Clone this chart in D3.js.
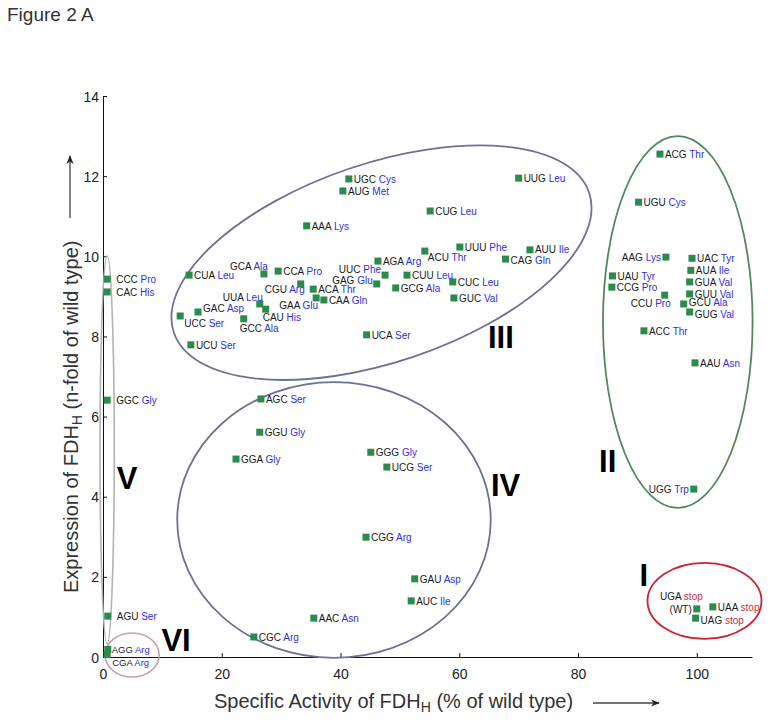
<!DOCTYPE html>
<html><head><meta charset="utf-8">
<script src="https://cdn.jsdelivr.net/npm/d3@7"></script>
<style>
body{margin:0;background:#fff}
svg{display:block}
text{font-family:"Liberation Sans",Arial,Helvetica,sans-serif}
</style>
</head><body>
<svg id="chart" width="771" height="722"></svg>
<script>
// ---------------- data ----------------
const codons = ["UGC","AUG","AAA","CUG","UUG","AUU","CAG","UUU","ACU","AGA","UUC","GAG","CUU","GCG","CUC","GUC","UCA","CUA","GCA","CCA","CGU","ACA","GAA","CAA","UUA","CAU","GAC","UCC","GCC","UCU",
  "ACG","UGU","AAG","UAC","AUA","UAU","GUA","CCG","GUU","CCU","GCU","GUG","ACC","AAU","UGG",
  "AGC","GGU","GGA","GGG","UCG","CGG","GAU","AUC","AAC","CGC",
  "UGA","UAA","UAG",
  "CCC","CAC","GGC","AGU",
  "AGG","CGA"];
const aminoAcids = ["Cys","Met","Lys","Leu","Leu","Ile","Gln","Phe","Thr","Arg","Phe","Glu","Leu","Ala","Leu","Val","Ser","Leu","Ala","Pro","Arg","Thr","Glu","Gln","Leu","His","Asp","Ser","Ala","Ser",
  "Thr","Cys","Lys","Tyr","Ile","Tyr","Val","Pro","Val","Pro","Ala","Val","Thr","Asn","Trp",
  "Ser","Gly","Gly","Gly","Ser","Arg","Asp","Ile","Asn","Arg",
  "stop","stop","stop",
  "Pro","His","Gly","Ser",
  "Arg","Arg"];
const activity = [41.4,40.4,34.3,55.1,70.0,71.9,67.8,60.1,54.2,46.3,47.5,46.1,51.2,49.3,58.9,59.1,44.4,14.5,27.1,29.5,33.3,35.4,35.9,37.2,26.4,27.4,16.0,13.0,23.7,14.8,
  93.8,90.2,94.8,99.2,99.0,85.8,98.8,85.7,98.8,94.6,97.8,98.8,91.1,99.7,99.5,
  26.6,26.4,22.4,45.1,47.8,44.3,52.5,51.9,35.5,25.4,
  100.0,102.7,99.8,
  0.7,0.7,0.7,0.8,
  0.8,0.7];
const expression = [11.93,11.63,10.76,11.13,11.95,10.16,9.93,10.23,10.13,9.88,9.53,9.31,9.53,9.21,9.36,8.96,8.04,9.53,9.56,9.63,9.31,9.18,8.96,8.91,8.81,8.68,8.61,8.51,8.44,7.79,
  12.55,11.35,9.98,9.95,9.65,9.51,9.36,9.23,9.06,9.03,8.81,8.61,8.14,7.34,4.19,
  6.44,5.61,4.94,5.11,4.74,2.99,1.95,1.40,0.97,0.50,
  1.20,1.25,0.97,
  9.43,9.11,6.41,1.02,
  0.19,0.06];
const xTicks = [0,20,40,60,80,100];
const yTicks = [0,2,4,6,8,10,12,14];

// clusters (roman numeral groups) in data units
const clusterNames = ["I","II","III","IV","V","VI"];
const clusterCx = [101.3, 96.8, 46.9, 38.9, 0.7, 4.9];
const clusterCy = [1.40, 8.36, 9.84, 3.42, 5.17, 0.05];
const clusterRx = [9.6, 12.6, 36.9, 26.4, 1.2, 4.55];
const clusterRy = [0.95, 4.64, 2.48, 3.44, 4.84, 0.55];
const clusterAngle = [0, 0, -18.6, 0, 0, 0];
const clusterLabelX = [91.1, 85.0, 67.0, 67.8, 4.04, 12.3];
const clusterLabelY = [1.77, 4.62, 7.71, 4.02, 4.19, 0.15];

// ---------------- layout / style ----------------
const W = 771, H = 722;
const clusterColors = {"I":"#cc2233","II":"#4f8a5b","III":"#6d7198","IV":"#6d7198","V":"#b3b3b3","VI":"#c9a0a8"};
// label placement: [anchor, dx, dy]
const labelLayout = {
  GCA:["end",4,-4], CGU:["end",4,9], UUA:["end",3,-3], GAA:["end",2,11],
  CAU:["start",-3,12], GCC:["start",-4,13], UCC:["start",4,11], GAC:["start",5,0],
  UUC:["end",-4,-2], GAG:["end",-4,0], ACU:["start",3,10],
  AUU:["start",5,3], CAG:["start",5,5],
  AAG:["end",-5,4], CCU:["end",6,12], UGG:["end",-5,4],
  GCU:["start",5,2], GUG:["start",5,6],
  UGA:["end",6,-9], UAG:["start",5,6],
  CCC:["start",9,4], CAC:["start",9,4], GGC:["start",9,4], AGU:["start",9,4],
  AGG:["start",4,4], CGA:["start",5,11]
};

const svg = d3.select("#chart");
svg.append("rect").attr("width",W).attr("height",H).attr("fill","#fff");

const x = d3.scaleLinear().domain([0,109.3]).range([103,752]);
const y = d3.scaleLinear().domain([0,14]).range([657,96]);

// title
svg.append("text").attr("x",7).attr("y",21).attr("font-size",19).attr("fill","#333").text("Figure 2 A");

// axes
const xAxis = d3.axisBottom(x).tickValues(xTicks).tickSizeInner(-4).tickSizeOuter(0).tickPadding(12).tickFormat(d3.format("d"));
const yAxis = d3.axisLeft(y).tickValues(yTicks).tickSizeInner(-4).tickSizeOuter(0).tickPadding(4).tickFormat(d3.format("d"));
const gx = svg.append("g").attr("transform",`translate(0,${y(0)})`).call(xAxis);
const gy = svg.append("g").attr("transform",`translate(${x(0)},0)`).call(yAxis);
[gx,gy].forEach(g=>{
  g.selectAll("path,line").attr("stroke","#111").attr("stroke-width",1);
  g.selectAll("text").attr("font-size",14).attr("fill","#222").attr("font-family","'Liberation Sans',Arial,sans-serif");
});
gy.selectAll(".tick text").attr("dy","0.36em");

// cluster ellipses
const clusters = clusterNames.map((n,i)=>({name:n,cx:clusterCx[i],cy:clusterCy[i],rx:clusterRx[i],ry:clusterRy[i],a:clusterAngle[i],lx:clusterLabelX[i],ly:clusterLabelY[i]}));
svg.append("g").selectAll("ellipse").data(clusters).join("ellipse")
  .attr("cx",0).attr("cy",0)
  .attr("rx",d=>x(d.rx)-x(0))
  .attr("ry",d=>y(0)-y(d.ry))
  .attr("transform",d=>`translate(${x(d.cx)},${y(d.cy)}) rotate(${d.a})`)
  .attr("fill","none")
  .attr("stroke",d=>clusterColors[d.name])
  .attr("stroke-width",d=>(d.name==="V"||d.name==="VI")?1.6:1.8);

svg.append("g").selectAll("text").data(clusters).join("text")
  .attr("x",d=>x(d.lx)).attr("y",d=>y(d.ly))
  .attr("text-anchor","middle")
  .attr("font-size",31).attr("font-weight","bold").attr("fill","#000")
  .text(d=>d.name);

// points
const pts = codons.map((c,i)=>({codon:c,aa:aminoAcids[i],x:activity[i],y:expression[i]}));
const S = 7;
svg.append("g").selectAll("rect").data(pts).join("rect")
  .attr("x",d=>x(d.x)-S/2).attr("y",d=>y(d.y)-S/2)
  .attr("width",S).attr("height",S).attr("fill","#2b8a4d");

const lg = svg.append("g");
pts.forEach(d=>{
  const lay = labelLayout[d.codon] || ["start",5,4];
  const small = (d.codon==="AGG"||d.codon==="CGA");
  const t = lg.append("text")
    .attr("x",x(d.x)+lay[1]).attr("y",y(d.y)+lay[2])
    .attr("text-anchor",lay[0])
    .attr("font-size",small?9.5:10);
  t.append("tspan").attr("fill","#1a1a1a").text(d.codon+" ");
  t.append("tspan").attr("fill",d.aa==="stop"?"#c8304a":"#2f2fe0").text(d.aa);
  if(d.codon==="UGA"){
    lg.append("text").attr("x",x(d.x)-5).attr("y",y(d.y)+4).attr("text-anchor","end")
      .attr("font-size",10).attr("fill","#1a1a1a").text("(WT)");
  }
});

// axis titles
const xt = svg.append("text").attr("x",214).attr("y",708).attr("font-size",20).attr("fill","#333");
xt.append("tspan").text("Specific Activity of FDH");
xt.append("tspan").attr("font-size",14).attr("dy",4).text("H");
xt.append("tspan").attr("dy",-4).text(" (% of wild type)");

const yt = svg.append("text").attr("transform","translate(78,593) rotate(-90)").attr("font-size",20).attr("fill","#333");
yt.append("tspan").text("Expression of FDH");
yt.append("tspan").attr("font-size",14).attr("dy",4).text("H");
yt.append("tspan").attr("dy",-4).text(" (n-fold of wild type)");

// arrows
const defs = svg.append("defs");
defs.append("marker").attr("id","ah").attr("viewBox","0 0 10 10").attr("refX",9).attr("refY",5)
  .attr("markerWidth",9).attr("markerHeight",9).attr("markerUnits","userSpaceOnUse").attr("orient","auto")
  .append("path").attr("d","M0,1 L10,5 L0,9 L3,5 Z").attr("fill","#222");
svg.append("line").attr("x1",593).attr("y1",703).attr("x2",659).attr("y2",703)
  .attr("stroke","#444").attr("stroke-width",1.3).attr("marker-end","url(#ah)");
svg.append("line").attr("x1",70).attr("y1",218).attr("x2",70).attr("y2",156)
  .attr("stroke","#444").attr("stroke-width",1.3).attr("marker-end","url(#ah)");
</script>
</body></html>
